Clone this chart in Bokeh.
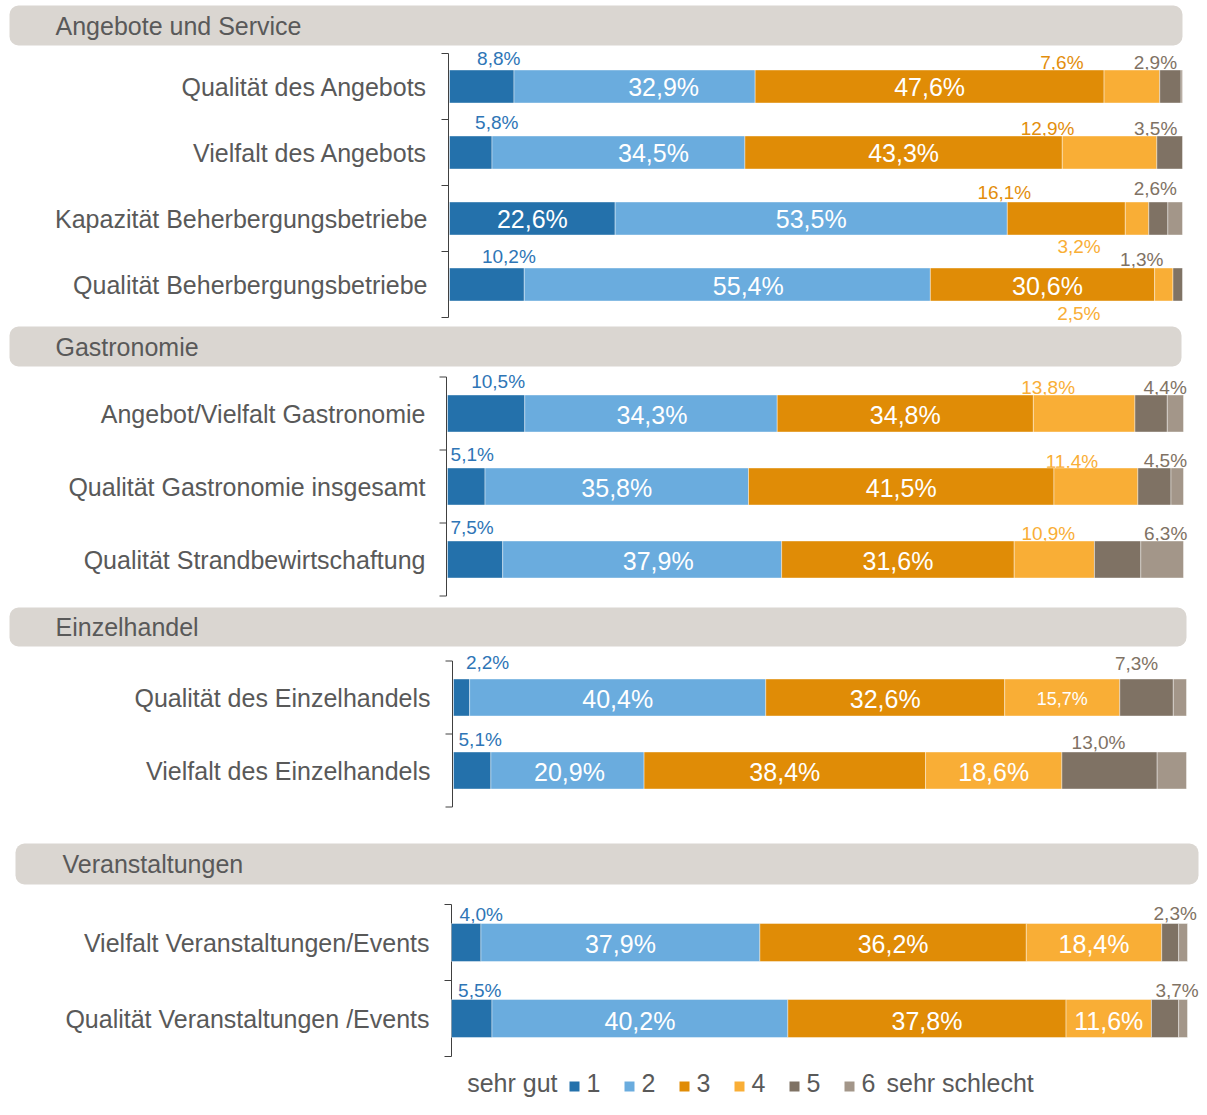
from bokeh.plotting import figure
from bokeh.models import Range1d, ColumnDataSource
from bokeh.core.properties import value
from bokeh.embed import file_html
from bokeh.resources import INLINE

# ---------------- data ----------------
categories = ["1", "2", "3", "4", "5", "6"]
scale_low = "sehr gut"
scale_high = "sehr schlecht"

groups = ["Angebote und Service", "Gastronomie", "Einzelhandel", "Veranstaltungen"]

items_angebote = ["Qualität des Angebots", "Vielfalt des Angebots",
                  "Kapazität Beherbergungsbetriebe", "Qualität Beherbergungsbetriebe"]
items_gastro = ["Angebot/Vielfalt Gastronomie", "Qualität Gastronomie insgesamt",
                "Qualität Strandbewirtschaftung"]
items_handel = ["Qualität des Einzelhandels", "Vielfalt des Einzelhandels"]
items_events = ["Vielfalt Veranstaltungen/Events", "Qualität Veranstaltungen /Events"]

# shares (%) for ratings 1..6, one row per item
vals_angebote = [
    [8.8, 32.9, 47.6, 7.6, 2.9, 0.2],
    [5.8, 34.5, 43.3, 12.9, 3.5, 0.0],
    [22.6, 53.5, 16.1, 3.2, 2.6, 2.0],
    [10.2, 55.4, 30.6, 2.5, 1.3, 0.0],
]
vals_gastro = [
    [10.5, 34.3, 34.8, 13.8, 4.4, 2.2],
    [5.1, 35.8, 41.5, 11.4, 4.5, 1.7],
    [7.5, 37.9, 31.6, 10.9, 6.3, 5.8],
]
vals_handel = [
    [2.2, 40.4, 32.6, 15.7, 7.3, 1.8],
    [5.1, 20.9, 38.4, 18.6, 13.0, 4.0],
]
vals_events = [
    [4.0, 37.9, 36.2, 18.4, 2.3, 1.2],
    [5.5, 40.2, 37.8, 11.6, 3.7, 1.2],
]

# ---------------- styles / layout ----------------
COLORS = ["#2471AB", "#6AACDE", "#E08C06", "#F9AE36", "#7F7264", "#A39689"]
LABEL_COLORS = {"b": "#2E75B6", "o": "#E38E0C", "lo": "#F9AE36", "g": "#7F7264",
                "w": "white", "ws": "white"}
TXT = "#595959"
FONT = value("Liberation Sans")
BIG = "25px"
SMALL = "19px"

W, H = 1199, 1099
OX, OY = 0, 0

# label nudges (px) and style per labelled segment (ratings 1..5)
lab_angebote = [
    [(17, -28, "b"), (29, 0, "w"), (0, 0, "w"), (-70, -24, "o"), (-15, -24, "g")],
    [(26, -30, "b"), (35, 0, "w"), (0, 0, "w"), (-62, -24, "o"), (-14, -24, "g")],
    [(0, 0, "w"), (0, 0, "w"), (-62, -26, "o"), (-58, 28, "lo"), (-3, -30, "g")],
    [(22, -28, "b"), (21, 1, "w"), (5, 1, "w"), (-85, 29, "lo"), (-36, -25, "g")],
]
lab_gastro = [
    [(12, -32, "b"), (1, 1, "w"), (0, 1, "w"), (-36, -26, "lo"), (14, -26, "g")],
    [(6, -32, "b"), (0, 1, "w"), (0, 1, "w"), (-24, -25, "lo"), (11, -26, "g")],
    [(-3, -32, "b"), (16, 1, "w"), (0, 1, "w"), (-6, -26, "lo"), (48, -26, "g")],
]
lab_handel = [
    [(26, -35, "b"), (0, 1, "w"), (0, 1, "w"), (0, 1, "ws"), (-10, -34, "g")],
    [(8, -31, "b"), (2, 1, "w"), (0, 1, "w"), (0, 1, "w"), (-11, -28, "g")],
]
lab_events = [
    [(15, -28, "b"), (0, 1, "w"), (0, 1, "w"), (0, 1, "w"), (5, -29, "g")],
    [(8, -28, "b"), (0, 2, "w"), (0, 2, "w"), (0, 2, "w"), (12, -28, "g")],
]

LAYOUT = [
    dict(bar_start=449, bar_end=1182, first=86, step=66, bar_h=33, label_right=427,
         axis_x=448, band=(9, 1182, 5, 45), title_x=55),
    dict(bar_start=447, bar_end=1183, first=413, step=73, bar_h=37, label_right=425,
         axis_x=446, band=(9, 1181, 326, 366), title_x=55),
    dict(bar_start=453, bar_end=1186, first=697, step=73, bar_h=37, label_right=430,
         axis_x=452, band=(9, 1186, 607, 646), title_x=55),
    dict(bar_start=451, bar_end=1187, first=942, step=76, bar_h=38, label_right=429,
         axis_x=451, band=(15, 1198, 843, 884), title_x=62),
]

group_items = [items_angebote, items_gastro, items_handel, items_events]
group_vals = [vals_angebote, vals_gastro, vals_handel, vals_events]
group_labs = [lab_angebote, lab_gastro, lab_handel, lab_events]


def fmt(v):
    return f"{v:.1f}".replace(".", ",") + "%"


p = figure(width=W, height=H, output_backend="svg", toolbar_location=None,
           x_range=Range1d(OX, OX + W), y_range=Range1d(OY + H, OY),
           x_axis_location=None, y_axis_location=None, min_border=0,
           outline_line_color=None, background_fill_color="white")
p.grid.visible = False

# percent scales, one per group
for gi, L in enumerate(LAYOUT):
    k = (L["bar_end"] - L["bar_start"]) / 100.0
    p.extra_x_ranges[f"g{gi}"] = Range1d((OX - L["bar_start"]) / k, (OX + W - L["bar_start"]) / k)

for gi, (title, items, vals, labs, L) in enumerate(zip(groups, group_items, group_vals, group_labs, LAYOUT)):
    rng = f"g{gi}"
    # header band
    x0, x1, y0, y1 = L["band"]
    p.quad(left=[x0], right=[x1], top=[y0], bottom=[y1], fill_color="#DAD6D1",
           line_color=None, border_radius=9)
    p.text(x=[L["title_x"]], y=[(y0 + y1) / 2], text=[title], text_font=FONT,
           text_font_size=BIG, text_color=TXT, text_baseline="middle", text_align="left")

    n = len(items)
    ys = [L["first"] + i * L["step"] for i in range(n)]

    # item labels
    p.text(x=[L["label_right"]] * n, y=ys, text=items, text_font=FONT, text_font_size=BIG,
           text_color=TXT, text_baseline="middle", text_align="right")

    # bracket axis
    top = L["first"] - L["step"] / 2
    bot = ys[-1] + L["step"] / 2
    p.segment(x0=[L["axis_x"]], y0=[top], x1=[L["axis_x"]], y1=[bot], line_color="#404040", line_width=1)
    ticks = [top + i * L["step"] for i in range(n + 1)]
    p.segment(x0=[L["axis_x"] - 7] * len(ticks), y0=ticks, x1=[L["axis_x"]] * len(ticks), y1=ticks,
              line_color="#404040", line_width=1)

    # bars & labels
    bar = dict(y=[], left=[], right=[], color=[])
    out_lab = dict(x=[], y=[], text=[], color=[], dx=[], dy=[])
    in_lab = dict(x=[], y=[], text=[], dx=[], dy=[], size=[])
    for ri, row in enumerate(vals):
        cum = 0.0
        for si, v in enumerate(row):
            left, right = cum, cum + v
            cum = right
            if v > 0:
                bar["y"].append(ys[ri]); bar["left"].append(left); bar["right"].append(right)
                bar["color"].append(COLORS[si])
            if si < 5:
                dx, dy, kind = labs[ri][si]
                if kind in ("w", "ws"):
                    in_lab["x"].append((left + right) / 2); in_lab["y"].append(ys[ri])
                    in_lab["text"].append(fmt(v)); in_lab["dx"].append(dx); in_lab["dy"].append(dy)
                    in_lab["size"].append(BIG if kind == "w" else "18px")
                else:
                    out_lab["x"].append((left + right) / 2); out_lab["y"].append(ys[ri])
                    out_lab["text"].append(fmt(v)); out_lab["color"].append(LABEL_COLORS[kind])
                    out_lab["dx"].append(dx); out_lab["dy"].append(dy)

    p.text(x="x", y="y", text="text", text_color="color", x_offset="dx", y_offset="dy",
           source=ColumnDataSource(out_lab), x_range_name=rng, text_font=FONT,
           text_font_size=SMALL, text_align="center", text_baseline="middle")
    p.hbar(y="y", left="left", right="right", height=L["bar_h"], fill_color="color",
           line_color="white", line_alpha=0.4, line_width=1,
           source=ColumnDataSource(bar), x_range_name=rng)
    p.text(x="x", y="y", text="text", x_offset="dx", y_offset="dy", text_font_size="size",
           source=ColumnDataSource(in_lab), x_range_name=rng, text_font=FONT,
           text_color="white", text_align="center", text_baseline="middle")

# legend
LEG_Y = 1082
sq_x = [574 + i * 55 for i in range(len(categories))]
p.rect(x=sq_x, y=[LEG_Y + 4] * len(categories), width=10, height=10, fill_color=COLORS,
       line_color=None)
p.text(x=[x + 12 for x in sq_x], y=[LEG_Y] * len(categories), text=categories, text_font=FONT,
       text_font_size=BIG, text_color=TXT, text_baseline="middle", text_align="left")
p.text(x=[557], y=[LEG_Y], text=[scale_low], text_font=FONT, text_font_size=BIG,
       text_color=TXT, text_baseline="middle", text_align="right")
p.text(x=[886], y=[LEG_Y], text=[scale_high], text_font=FONT, text_font_size=BIG,
       text_color=TXT, text_baseline="middle", text_align="left")

open("out.html", "w").write(file_html(p, INLINE))
